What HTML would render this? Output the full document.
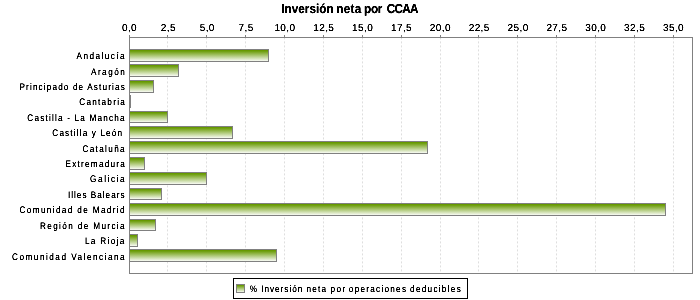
<!DOCTYPE html><html><head><meta charset="utf-8"><style>
html,body{margin:0;padding:0;background:#fff;width:700px;height:300px;overflow:hidden}
svg{display:block;will-change:transform}
text{font-family:"Liberation Sans",sans-serif;text-rendering:geometricPrecision}
</style></head><body>
<svg width="700" height="300" viewBox="0 0 700 300">
<defs><linearGradient id="g" x1="0" y1="0" x2="0" y2="1"><stop offset="0.1" stop-color="#669900"/><stop offset="1.0" stop-color="#ffffff"/></linearGradient><filter id="sh" x="-0.1" y="-0.3" width="1.2" height="1.6"><feComponentTransfer><feFuncA type="linear" slope="1.8" intercept="-0.1"/></feComponentTransfer></filter></defs>

<rect x="0" y="0" width="700" height="300" fill="#fff"/>
<g filter="url(#sh)">
<text transform="translate(281.20,13) scale(0.9,1)" font-size="13" letter-spacing="0.065" font-weight="bold" fill="#000">Inversión</text>
<text transform="translate(336.20,13) scale(0.9,1)" font-size="13" letter-spacing="0.333" font-weight="bold" fill="#000">neta</text>
<text transform="translate(364.10,13) scale(0.9,1)" font-size="13" letter-spacing="-0.383" font-weight="bold" fill="#000">por</text>
<text transform="translate(386.66,13) scale(0.9,1)" font-size="13" letter-spacing="-0.731" font-weight="bold" fill="#000">CCAA</text>
</g>
<line x1="167.5" y1="37.4" x2="167.5" y2="273" stroke="#dedede" stroke-width="1" stroke-dasharray="2,2"/>
<line x1="206.5" y1="37.4" x2="206.5" y2="273" stroke="#dedede" stroke-width="1" stroke-dasharray="2,2"/>
<line x1="245.5" y1="37.4" x2="245.5" y2="273" stroke="#dedede" stroke-width="1" stroke-dasharray="2,2"/>
<line x1="284.5" y1="37.4" x2="284.5" y2="273" stroke="#dedede" stroke-width="1" stroke-dasharray="2,2"/>
<line x1="323.5" y1="37.4" x2="323.5" y2="273" stroke="#dedede" stroke-width="1" stroke-dasharray="2,2"/>
<line x1="362.5" y1="37.4" x2="362.5" y2="273" stroke="#dedede" stroke-width="1" stroke-dasharray="2,2"/>
<line x1="401.5" y1="37.4" x2="401.5" y2="273" stroke="#dedede" stroke-width="1" stroke-dasharray="2,2"/>
<line x1="440.5" y1="37.4" x2="440.5" y2="273" stroke="#dedede" stroke-width="1" stroke-dasharray="2,2"/>
<line x1="478.5" y1="37.4" x2="478.5" y2="273" stroke="#dedede" stroke-width="1" stroke-dasharray="2,2"/>
<line x1="517.5" y1="37.4" x2="517.5" y2="273" stroke="#dedede" stroke-width="1" stroke-dasharray="2,2"/>
<line x1="556.5" y1="37.4" x2="556.5" y2="273" stroke="#dedede" stroke-width="1" stroke-dasharray="2,2"/>
<line x1="595.5" y1="37.4" x2="595.5" y2="273" stroke="#dedede" stroke-width="1" stroke-dasharray="2,2"/>
<line x1="634.5" y1="37.4" x2="634.5" y2="273" stroke="#dedede" stroke-width="1" stroke-dasharray="2,2"/>
<line x1="673.5" y1="37.4" x2="673.5" y2="273" stroke="#dedede" stroke-width="1" stroke-dasharray="2,2"/>
<line x1="129.5" y1="35" x2="129.5" y2="37" stroke="#808080" stroke-width="1"/>
<line x1="167.5" y1="35" x2="167.5" y2="37" stroke="#808080" stroke-width="1"/>
<line x1="206.5" y1="35" x2="206.5" y2="37" stroke="#808080" stroke-width="1"/>
<line x1="245.5" y1="35" x2="245.5" y2="37" stroke="#808080" stroke-width="1"/>
<line x1="284.5" y1="35" x2="284.5" y2="37" stroke="#808080" stroke-width="1"/>
<line x1="323.5" y1="35" x2="323.5" y2="37" stroke="#808080" stroke-width="1"/>
<line x1="362.5" y1="35" x2="362.5" y2="37" stroke="#808080" stroke-width="1"/>
<line x1="401.5" y1="35" x2="401.5" y2="37" stroke="#808080" stroke-width="1"/>
<line x1="440.5" y1="35" x2="440.5" y2="37" stroke="#808080" stroke-width="1"/>
<line x1="478.5" y1="35" x2="478.5" y2="37" stroke="#808080" stroke-width="1"/>
<line x1="517.5" y1="35" x2="517.5" y2="37" stroke="#808080" stroke-width="1"/>
<line x1="556.5" y1="35" x2="556.5" y2="37" stroke="#808080" stroke-width="1"/>
<line x1="595.5" y1="35" x2="595.5" y2="37" stroke="#808080" stroke-width="1"/>
<line x1="634.5" y1="35" x2="634.5" y2="37" stroke="#808080" stroke-width="1"/>
<line x1="673.5" y1="35" x2="673.5" y2="37" stroke="#808080" stroke-width="1"/>
<g filter="url(#sh)"><text transform="translate(129.30,31) scale(1.0,1)" x="0.2" text-anchor="middle" font-size="10" letter-spacing="0.4" fill="#000" >0,0</text><text transform="translate(168.16,31) scale(1.0,1)" x="0.2" text-anchor="middle" font-size="10" letter-spacing="0.4" fill="#000" >2,5</text><text transform="translate(207.01,31) scale(1.0,1)" x="0.2" text-anchor="middle" font-size="10" letter-spacing="0.4" fill="#000" >5,0</text><text transform="translate(245.87,31) scale(1.0,1)" x="0.2" text-anchor="middle" font-size="10" letter-spacing="0.4" fill="#000" >7,5</text><text transform="translate(284.73,31) scale(1.0,1)" x="0.2" text-anchor="middle" font-size="10" letter-spacing="0.4" fill="#000" >10,0</text><text transform="translate(323.59,31) scale(1.0,1)" x="0.2" text-anchor="middle" font-size="10" letter-spacing="0.4" fill="#000" >12,5</text><text transform="translate(362.44,31) scale(1.0,1)" x="0.2" text-anchor="middle" font-size="10" letter-spacing="0.4" fill="#000" >15,0</text><text transform="translate(401.30,31) scale(1.0,1)" x="0.2" text-anchor="middle" font-size="10" letter-spacing="0.4" fill="#000" >17,5</text><text transform="translate(440.16,31) scale(1.0,1)" x="0.2" text-anchor="middle" font-size="10" letter-spacing="0.4" fill="#000" >20,0</text><text transform="translate(479.01,31) scale(1.0,1)" x="0.2" text-anchor="middle" font-size="10" letter-spacing="0.4" fill="#000" >22,5</text><text transform="translate(517.87,31) scale(1.0,1)" x="0.2" text-anchor="middle" font-size="10" letter-spacing="0.4" fill="#000" >25,0</text><text transform="translate(556.73,31) scale(1.0,1)" x="0.2" text-anchor="middle" font-size="10" letter-spacing="0.4" fill="#000" >27,5</text><text transform="translate(595.59,31) scale(1.0,1)" x="0.2" text-anchor="middle" font-size="10" letter-spacing="0.4" fill="#000" >30,0</text><text transform="translate(634.44,31) scale(1.0,1)" x="0.2" text-anchor="middle" font-size="10" letter-spacing="0.4" fill="#000" >32,5</text><text transform="translate(673.30,31) scale(1.0,1)" x="0.2" text-anchor="middle" font-size="10" letter-spacing="0.4" fill="#000" >35,0</text></g>
<rect x="129.5" y="49.5" width="139" height="12" fill="url(#g)" stroke="#808080" stroke-width="1"/>
<rect x="129.5" y="64.5" width="49" height="12" fill="url(#g)" stroke="#808080" stroke-width="1"/>
<rect x="129.5" y="80.5" width="24" height="12" fill="url(#g)" stroke="#808080" stroke-width="1"/>
<rect x="129.5" y="95.5" width="1" height="12" fill="url(#g)" stroke="#808080" stroke-width="1"/>
<rect x="129.5" y="111.5" width="38" height="11" fill="url(#g)" stroke="#808080" stroke-width="1"/>
<rect x="129.5" y="126.5" width="103" height="12" fill="url(#g)" stroke="#808080" stroke-width="1"/>
<rect x="129.5" y="141.5" width="298" height="12" fill="url(#g)" stroke="#808080" stroke-width="1"/>
<rect x="129.5" y="157.5" width="15" height="12" fill="url(#g)" stroke="#808080" stroke-width="1"/>
<rect x="129.5" y="172.5" width="77" height="12" fill="url(#g)" stroke="#808080" stroke-width="1"/>
<rect x="129.5" y="188.5" width="32" height="11" fill="url(#g)" stroke="#808080" stroke-width="1"/>
<rect x="129.5" y="203.5" width="536" height="12" fill="url(#g)" stroke="#808080" stroke-width="1"/>
<rect x="129.5" y="219.5" width="26" height="11" fill="url(#g)" stroke="#808080" stroke-width="1"/>
<rect x="129.5" y="234.5" width="8" height="12" fill="url(#g)" stroke="#808080" stroke-width="1"/>
<rect x="129.5" y="249.5" width="147" height="12" fill="url(#g)" stroke="#808080" stroke-width="1"/>
<g filter="url(#sh)">
<text transform="translate(76.53,59) scale(0.86,1)" font-size="9.5" letter-spacing="1.699" fill="#000" >Andalucía</text>
<text transform="translate(91.00,75) scale(0.86,1)" font-size="9.5" letter-spacing="1.717" fill="#000" >Aragón</text>
<text transform="translate(19.46,90) scale(0.86,1)" font-size="9.5" letter-spacing="1.331" fill="#000" >Principado de Asturias</text>
<text transform="translate(79.24,105) scale(0.86,1)" font-size="9.5" letter-spacing="1.468" fill="#000" >Cantabria</text>
<text transform="translate(27.37,121) scale(0.86,1)" font-size="9.5" letter-spacing="1.388" fill="#000" >Castilla - La Mancha</text>
<text transform="translate(52.37,136) scale(0.86,1)" font-size="9.5" letter-spacing="1.335" fill="#000" >Castilla y León</text>
<text transform="translate(82.40,152) scale(0.86,1)" font-size="9.5" letter-spacing="1.574" fill="#000" >Cataluña</text>
<text transform="translate(65.48,167) scale(0.86,1)" font-size="9.5" letter-spacing="1.460" fill="#000" >Extremadura</text>
<text transform="translate(90.10,182) scale(0.86,1)" font-size="9.5" letter-spacing="1.842" fill="#000" >Galicia</text>
<text transform="translate(67.90,198) scale(0.86,1)" font-size="9.5" letter-spacing="1.178" fill="#000" >Illes Balears</text>
<text transform="translate(19.57,213) scale(0.86,1)" font-size="9.5" letter-spacing="1.591" fill="#000" >Comunidad de Madrid</text>
<text transform="translate(40.01,229) scale(0.86,1)" font-size="9.5" letter-spacing="1.593" fill="#000" >Región de Murcia</text>
<text transform="translate(84.90,244) scale(0.86,1)" font-size="9.5" letter-spacing="1.565" fill="#000" >La Rioja</text>
<text transform="translate(12.10,260) scale(0.86,1)" font-size="9.5" letter-spacing="1.750" fill="#000" >Comunidad Valenciana</text>
</g>
<rect x="129.5" y="37.5" width="563" height="236" fill="none" stroke="#808080" stroke-width="1"/>
<rect x="233.5" y="278.5" width="234" height="20" fill="#fff" stroke="#000" stroke-width="1"/>
<rect x="236.5" y="284.5" width="8" height="8" fill="url(#g)" stroke="#808080" stroke-width="1"/>
<g filter="url(#sh)">
<text transform="translate(249.79,292) scale(0.86,1)" font-size="9.5" letter-spacing="0.000" fill="#000" >%</text>
<text transform="translate(261.20,292) scale(0.86,1)" font-size="9.5" letter-spacing="1.156" fill="#000" >Inversión</text>
<text transform="translate(306.48,292) scale(0.86,1)" font-size="9.5" letter-spacing="1.440" fill="#000" >neta</text>
<text transform="translate(330.41,292) scale(0.86,1)" font-size="9.5" letter-spacing="1.741" fill="#000" >por</text>
<text transform="translate(348.86,292) scale(0.86,1)" font-size="9.5" letter-spacing="1.467" fill="#000" >operaciones</text>
<text transform="translate(410.08,292) scale(0.86,1)" font-size="9.5" letter-spacing="1.496" fill="#000" >deducibles</text>
</g>
</svg></body></html>
